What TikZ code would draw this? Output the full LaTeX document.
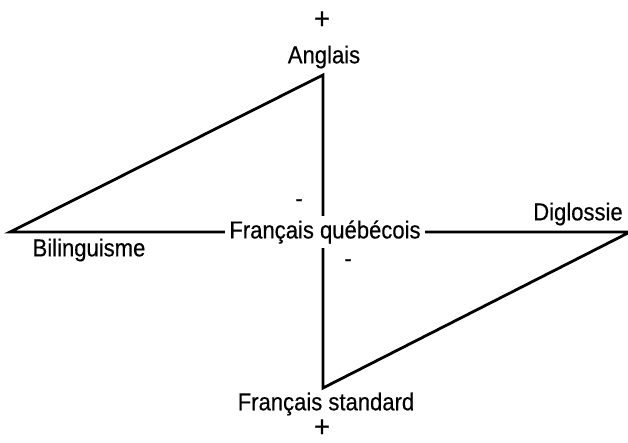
\documentclass[tikz,border=0pt]{standalone}
\usepackage{fontspec}
\setmainfont{Liberation Sans}[FakeStretch=0.9, FakeBold=0.4]
\usepackage{tikz}
\usetikzlibrary{positioning}

\begin{document}
\begin{tikzpicture}[
    x=1pt, y=1pt,
    axe/.style  = {line width=2.8pt, line join=miter},
    lab/.style  = {inner sep=1pt, font=\fontsize{24.5}{26}\selectfont},
    sgn/.style  = {inner sep=0pt, font=\fontsize{30}{32}\selectfont},
    ctr/.style  = {lab, fill=white, inner sep=4pt}
  ]
  \useasboundingbox (0,0) rectangle (628,443);

  %% corners of the figure
  \coordinate (g) at (10,211);
  \coordinate (h) at (323,368);
  \coordinate (b) at (323,55);
  \coordinate (d) at (630,211);

  %% the two triangles and the axes
  \draw[axe] (g) -- (h) -- (b) -- (d) -- cycle;

  %% centre
  \node[ctr] (qc) at (325,211) {Français québécois};

  %% labels
  \node[lab] (en)  at (324,386) {Anglais};
  \node[sgn] (pp1) at (322,423) {+};
  \node[lab] (fs)  at (326,39)  {Français standard};
  \node[sgn] (pp2) at (322,15)  {+};
  \node[lab] (bil) at (89,193)  {Bilinguisme};
  \node[lab] (dig) at (578,229) {Diglossie};
  \node[lab] (m1)  at (299,240) {-};
  \node[lab] (m2)  at (348,180) {-};

\end{tikzpicture}
\end{document}
